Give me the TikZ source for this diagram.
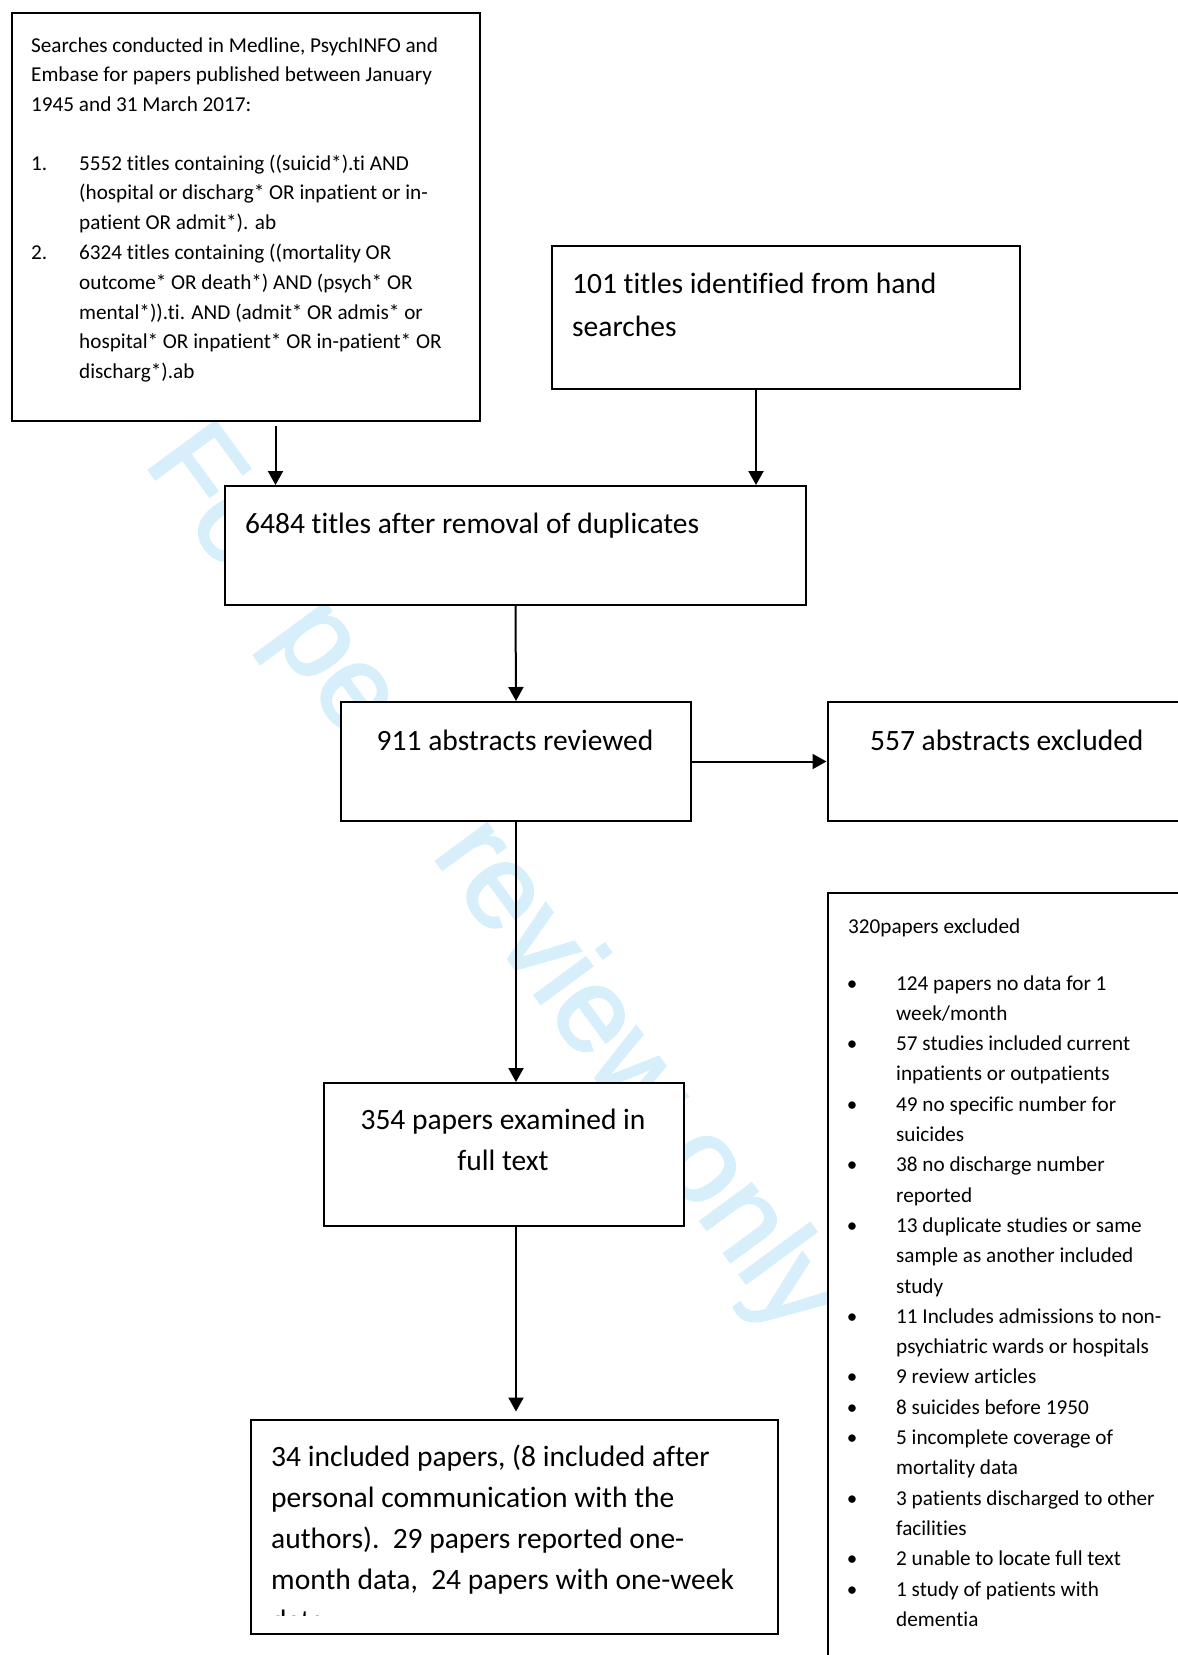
\documentclass[tikz,border=0pt]{standalone}
\usepackage{fontspec}
\setmainfont{Carlito}[Ligatures={NoCommon,NoContextual}]
\newfontfamily\wmfont{Liberation Sans}[FakeBold=2]
\usetikzlibrary{arrows.meta}
\definecolor{wmcol}{RGB}{214,239,251}
\begin{document}
\begin{tikzpicture}[x=1pt,y=-1pt,
  box/.style={draw, line width=2pt, fill=white, anchor=north west, inner sep=0pt},
  arr/.style={-{Triangle[width=15pt,length=14pt]}, line width=2pt},
  small/.style={font=\fontsize{21.2}{30}\selectfont, anchor=base west, inner sep=0pt},
  big/.style={font=\fontsize{29.5}{41}\selectfont, anchor=base west, inner sep=0pt},
  bigc/.style={font=\fontsize{29.5}{41}\selectfont, anchor=base, inner sep=0pt}]
\useasboundingbox (0,0) rectangle (1178,1655);
\clip (0,0) rectangle (1178,1655);
\fill[white] (0,0) rectangle (1178,1655);
% watermark
\node[font=\wmfont\fontsize{120}{120}\selectfont, text=wmcol, rotate=-53.7,
      anchor=base west, inner sep=0pt] (wm) at (143,462) {For peer review only};
% boxes
\node[box, minimum width=468pt, minimum height=408pt] (b1) at (11,12) {};
\node[box, minimum width=468pt, minimum height=143pt] (b2) at (551,245) {};
\node[box, minimum width=581pt, minimum height=119pt] (b3) at (224,485) {};
\node[box, minimum width=350pt, minimum height=119pt] (b4) at (340,701) {};
\node[box, minimum width=400pt, minimum height=119pt] (b5) at (826.5,701) {};
\node[box, minimum width=360pt, minimum height=143pt] (b6) at (323,1082) {};
\node[box, minimum width=527pt, minimum height=214pt] (b7) at (250,1419) {};
\node[box, minimum width=400pt, minimum height=850pt] (b8) at (827,892) {};
% box 1 text
\node[small] (s1) at (31,52) {Searches conducted in Medline, PsychINFO and};
\node[small] (s2) at (31,81.8) {Embase for papers published between January};
\node[small] (s3) at (31,111.6) {1945 and 31 March 2017:};
\node[small] (n1) at (31,170) {1.};
\node[small] (s4) at (79,170) {5552 titles containing ((suicid*).ti AND};
\node[small] (s5) at (79,199.8) {(hospital or discharg* OR inpatient or in-};
\node[small] (s6) at (79,229.6) {patient OR admit*). ab};
\node[small] (n2) at (31,259.4) {2.};
\node[small] (s7) at (79,259.4) {6324 titles containing ((mortality OR};
\node[small] (s8) at (79,289.2) {outcome* OR death*) AND (psych* OR};
\node[small] (s9) at (79,319) {mental*)).ti. AND (admit* OR admis* or};
\node[small] (s10) at (79,348.8) {hospital* OR inpatient* OR in-patient* OR};
\node[small] (s11) at (79,378.6) {discharg*).ab};
% other box texts
\node[big] (t2a) at (572,293.3) {101 titles identified from hand};
\node[big] (t2b) at (572,336) {searches};
\node[big] (t3) at (245,533) {6484 titles after removal of duplicates};
\node[bigc] (t4) at (515,750) {911 abstracts reviewed};
\node[big] (t5) at (870,750) {557 abstracts excluded};
\node[bigc] (t6a) at (503,1129) {354 papers examined in};
\node[bigc] (t6b) at (503,1170) {full text};
\begin{scope}
\clip (250,1419) rectangle (777,1615);
\node[big] (t7a) at (271,1466) {34 included papers, (8 included after};
\node[big] (t7b) at (271,1507) {personal communication with the};
\node[big] (t7c) at (271,1548) {authors).\ \ 29 papers reported one-};
\node[big] (t7d) at (271,1589) {month data,\ \ 24 papers with one-week};
\node[big] (t7e) at (271,1630) {data};
\end{scope}
% box 8 text
\node[small] (e0) at (848,933) {320papers excluded};
\foreach \k/\t in {0/124 papers no data for 1, 1/{week/month},
  2/57 studies included current, 3/inpatients or outpatients,
  4/49 no specific number for, 5/suicides,
  6/38 no discharge number, 7/reported,
  8/13 duplicate studies or same, 9/sample as another included, 10/study,
  11/11 Includes admissions to non-, 12/psychiatric wards or hospitals,
  13/9 review articles, 14/8 suicides before 1950,
  15/5 incomplete coverage of, 16/mortality data,
  17/3 patients discharged to other, 18/facilities,
  19/2 unable to locate full text, 20/1 study of patients with, 21/dementia}
  {\node[small] (e\k) at (896,990+30.3*\k) {\t};}
\foreach \k in {0,2,4,6,8,11,13,14,15,17,19,20}
  {\node[font=\fontsize{21}{30}\selectfont, anchor=base, inner sep=0pt] (d\k) at (852,990+30.3*\k) {\textbullet};}
% connectors
\coordinate (a1) at (275.5,424);
\draw[arr, shorten <=4pt] (b1.south -| a1) -- (a1 |- b3.north);
\draw[arr] ([xshift=-30pt]b2.south) coordinate (a2) -- (a2 |- b3.north);
\draw[arr] (b3.south) -- (b4.north);
\draw[arr] (b4.east) -- (b4.east -| b5.west);
\draw[arr] (b4.south) -- (b4.south |- b6.north);
\draw[arr, shorten >=7.5pt] (b4.south |- b6.south) -- (b4.south |- b7.north);
\end{tikzpicture}
\end{document}
